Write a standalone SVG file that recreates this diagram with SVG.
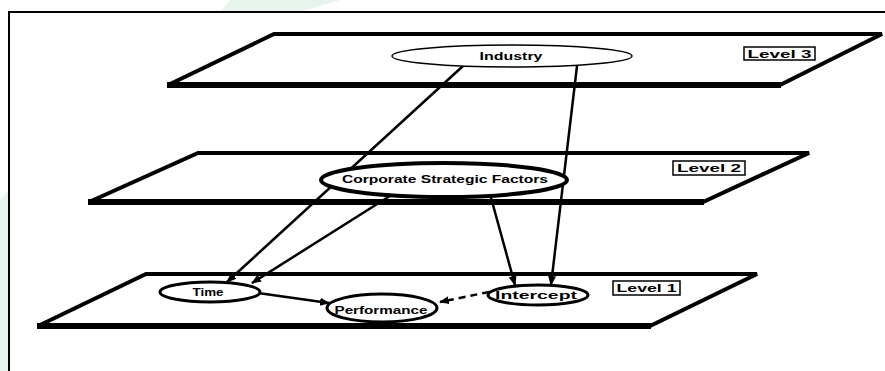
<svg xmlns="http://www.w3.org/2000/svg" width="885" height="371" viewBox="0 0 885 371">
<defs>
<marker id="ah" markerUnits="userSpaceOnUse" markerWidth="10" markerHeight="10" viewBox="0 0 10 10" refX="9" refY="5" orient="auto">
<path d="M0,1 L10,5 L0,9 Z" fill="#000"/>
</marker>
</defs>
<style>
.plane{fill:#fff;stroke:#000;stroke-width:4;stroke-linejoin:miter}
.base{stroke:#000;stroke-width:6}
.node{fill:#fff;stroke:#000}
.lbl{font-family:"Liberation Sans",Arial,sans-serif;font-size:11px;font-weight:bold;fill:#000;text-anchor:middle;dominant-baseline:central}
.box{fill:#fff;stroke:#000;stroke-width:1.5}
.edge{stroke:#000;stroke-width:2.5;fill:none;marker-end:url(#ah)}
</style>
<rect width="885" height="371" fill="#fff"/>
<path d="M230,0 L340,0 L300,12 L220,12 Z" fill="#e6f4ec"/>
<path d="M0,200 L9,190 L9,371 L0,371 Z" fill="#e6f4ec"/>
<rect x="9" y="12" width="890" height="380" fill="#fff" stroke="#000" stroke-width="2"/>
<g id="plane3">
<polygon class="plane" points="274,34 882,34 780,85 168,85"/>
<line class="base" x1="167" y1="85" x2="781" y2="85"/>
<rect class="box" x="744" y="47" width="71" height="13"/>
<text class="lbl" x="779.5" y="53.5" textLength="64" lengthAdjust="spacingAndGlyphs">Level 3</text>
</g>
<g id="plane2">
<polygon class="plane" points="198,153 809,153 703,202 89,202"/>
<line class="base" x1="88" y1="202" x2="704" y2="202"/>
<rect class="box" x="673" y="161" width="72" height="14"/>
<text class="lbl" x="709" y="168" textLength="64" lengthAdjust="spacingAndGlyphs">Level 2</text>
</g>
<g id="plane1">
<polygon class="plane" points="146,274 757,274 650,326 38,326"/>
<line class="base" x1="37" y1="326" x2="651" y2="326"/>
<rect class="box" x="613" y="281" width="67" height="14"/>
<text class="lbl" x="646.5" y="288" textLength="60" lengthAdjust="spacingAndGlyphs">Level 1</text>
</g>
<g id="connectors">
<line class="edge" x1="463" y1="66" x2="227" y2="282"/>
<line class="edge" x1="577" y1="66" x2="551" y2="285"/>
<line class="edge" x1="393" y1="194" x2="252" y2="283"/>
<line class="edge" x1="490" y1="194" x2="515" y2="285"/>
<line class="edge" x1="258" y1="293" x2="329" y2="303"/>
<line class="edge" x1="489" y1="292" x2="440" y2="302" stroke-dasharray="7,5" stroke-width="1.5"/>
</g>
<g id="industry">
<ellipse class="node" cx="512" cy="56" rx="120" ry="11" stroke-width="1.5"/>
<text class="lbl" x="511" y="56" textLength="63" lengthAdjust="spacingAndGlyphs">Industry</text>
</g>
<g id="csf">
<ellipse class="node" cx="444" cy="180" rx="123" ry="17" stroke-width="4"/>
<text class="lbl" x="445" y="179" textLength="206" lengthAdjust="spacingAndGlyphs">Corporate Strategic Factors</text>
</g>
<g id="time">
<ellipse class="node" cx="210" cy="292" rx="50" ry="10" stroke-width="3"/>
<text class="lbl" x="208" y="292" textLength="31" lengthAdjust="spacingAndGlyphs">Time</text>
</g>
<g id="performance">
<ellipse class="node" cx="382" cy="308" rx="55" ry="14" stroke-width="3"/>
<text class="lbl" x="381" y="310" textLength="93" lengthAdjust="spacingAndGlyphs">Performance</text>
</g>
<g id="intercept">
<ellipse class="node" cx="538" cy="295" rx="50" ry="10" stroke-width="3"/>
<text class="lbl" x="536" y="295" textLength="82" lengthAdjust="spacingAndGlyphs">Intercept</text>
</g>
</svg>
